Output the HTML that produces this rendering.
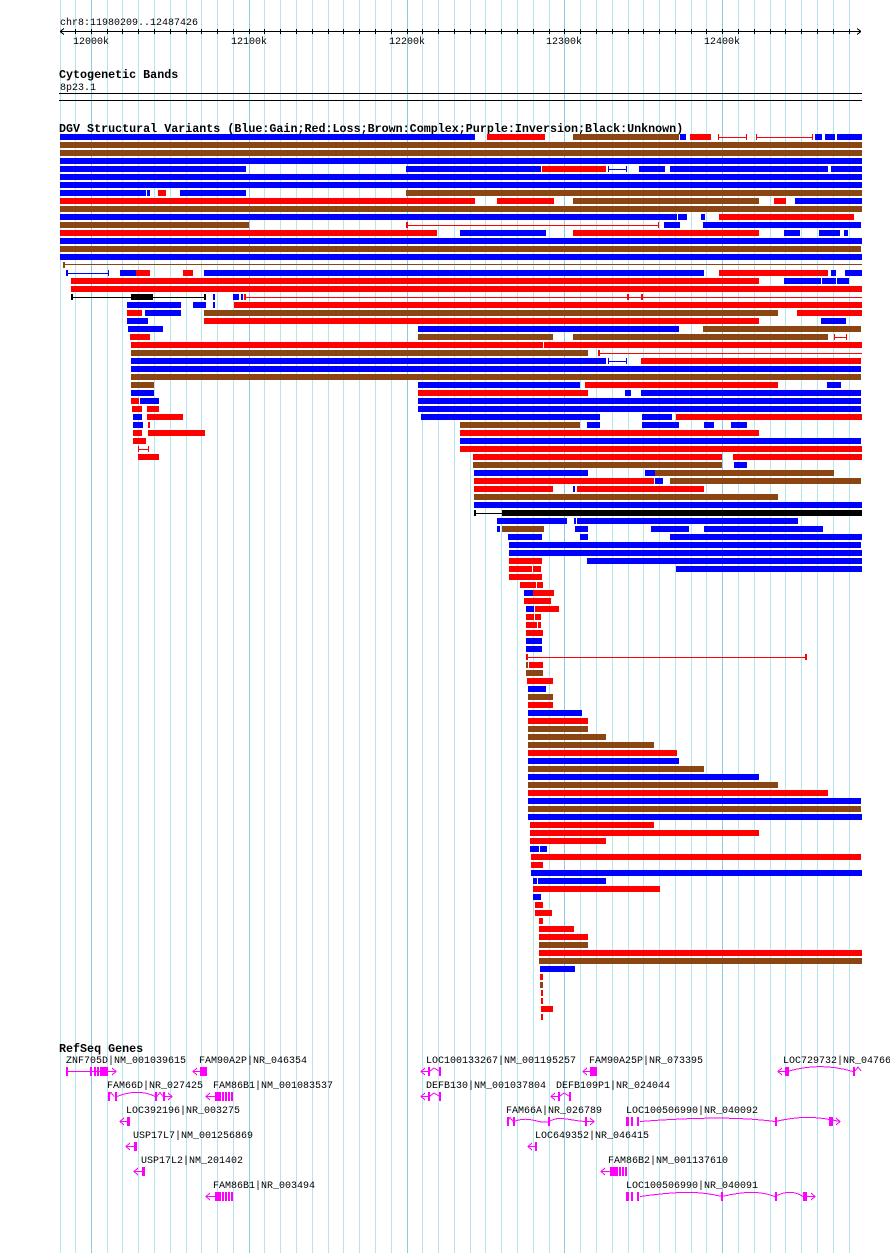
<!DOCTYPE html>
<html><head><meta charset="utf-8"><style>
html,body{margin:0;padding:0;background:#fff;}
svg{display:block}
.b{fill:#0000ff}.r{fill:#ff0000}.n{fill:#8b4513}.k{fill:#000}
.g{stroke:#b4e6f0;stroke-width:1}.gm{stroke:#8ccbe6;stroke-width:1}
.lr{stroke:#ff0000;stroke-width:1;fill:none}.lb{stroke:#0000ff;stroke-width:1;fill:none}.ln{stroke:#8b4513;stroke-width:1;fill:none}.lk{stroke:#000;stroke-width:1;fill:none}
.m{fill:#ff00ff}.lm{stroke:#ff00ff;stroke-width:1;fill:none}
text{font-family:"Liberation Mono",monospace;font-size:10px;fill:#000}
.t{font-weight:bold;font-size:11.7px}
</style></head><body>
<svg width="890" height="1253" viewBox="0 0 890 1253" xmlns="http://www.w3.org/2000/svg" shape-rendering="crispEdges">
<rect width="890" height="1253" fill="#fff"/>
<g>
<line class="g" x1="60.5" y1="0" x2="60.5" y2="1253"/><line class="g" x1="75.5" y1="0" x2="75.5" y2="1253"/><line class="gm" x1="91.5" y1="0" x2="91.5" y2="1253"/><line class="g" x1="107.5" y1="0" x2="107.5" y2="1253"/><line class="g" x1="122.5" y1="0" x2="122.5" y2="1253"/><line class="g" x1="138.5" y1="0" x2="138.5" y2="1253"/><line class="g" x1="154.5" y1="0" x2="154.5" y2="1253"/><line class="g" x1="170.5" y1="0" x2="170.5" y2="1253"/><line class="g" x1="186.5" y1="0" x2="186.5" y2="1253"/><line class="g" x1="201.5" y1="0" x2="201.5" y2="1253"/><line class="g" x1="217.5" y1="0" x2="217.5" y2="1253"/><line class="g" x1="233.5" y1="0" x2="233.5" y2="1253"/><line class="gm" x1="249.5" y1="0" x2="249.5" y2="1253"/><line class="g" x1="264.5" y1="0" x2="264.5" y2="1253"/><line class="g" x1="280.5" y1="0" x2="280.5" y2="1253"/><line class="g" x1="296.5" y1="0" x2="296.5" y2="1253"/><line class="g" x1="312.5" y1="0" x2="312.5" y2="1253"/><line class="g" x1="328.5" y1="0" x2="328.5" y2="1253"/><line class="g" x1="343.5" y1="0" x2="343.5" y2="1253"/><line class="g" x1="359.5" y1="0" x2="359.5" y2="1253"/><line class="g" x1="375.5" y1="0" x2="375.5" y2="1253"/><line class="g" x1="391.5" y1="0" x2="391.5" y2="1253"/><line class="gm" x1="407.5" y1="0" x2="407.5" y2="1253"/><line class="g" x1="422.5" y1="0" x2="422.5" y2="1253"/><line class="g" x1="438.5" y1="0" x2="438.5" y2="1253"/><line class="g" x1="454.5" y1="0" x2="454.5" y2="1253"/><line class="g" x1="470.5" y1="0" x2="470.5" y2="1253"/><line class="g" x1="485.5" y1="0" x2="485.5" y2="1253"/><line class="g" x1="501.5" y1="0" x2="501.5" y2="1253"/><line class="g" x1="517.5" y1="0" x2="517.5" y2="1253"/><line class="g" x1="533.5" y1="0" x2="533.5" y2="1253"/><line class="g" x1="549.5" y1="0" x2="549.5" y2="1253"/><line class="gm" x1="564.5" y1="0" x2="564.5" y2="1253"/><line class="g" x1="580.5" y1="0" x2="580.5" y2="1253"/><line class="g" x1="596.5" y1="0" x2="596.5" y2="1253"/><line class="g" x1="612.5" y1="0" x2="612.5" y2="1253"/><line class="g" x1="628.5" y1="0" x2="628.5" y2="1253"/><line class="g" x1="643.5" y1="0" x2="643.5" y2="1253"/><line class="g" x1="659.5" y1="0" x2="659.5" y2="1253"/><line class="g" x1="675.5" y1="0" x2="675.5" y2="1253"/><line class="g" x1="691.5" y1="0" x2="691.5" y2="1253"/><line class="g" x1="706.5" y1="0" x2="706.5" y2="1253"/><line class="gm" x1="722.5" y1="0" x2="722.5" y2="1253"/><line class="g" x1="738.5" y1="0" x2="738.5" y2="1253"/><line class="g" x1="754.5" y1="0" x2="754.5" y2="1253"/><line class="g" x1="770.5" y1="0" x2="770.5" y2="1253"/><line class="g" x1="785.5" y1="0" x2="785.5" y2="1253"/><line class="g" x1="801.5" y1="0" x2="801.5" y2="1253"/><line class="g" x1="817.5" y1="0" x2="817.5" y2="1253"/><line class="g" x1="833.5" y1="0" x2="833.5" y2="1253"/><line class="g" x1="849.5" y1="0" x2="849.5" y2="1253"/>
</g>
<!-- ruler -->
<text x="60" y="25">chr8:11980209..12487426</text>
<path class="lk" d="M60 31.5H861M60 31.5l4 -3M60 31.5l4 3M861 31.5l-4 -3M861 31.5l-4 3"/>
<path class="lk" d="M75.5 29v5M91.5 29v5M107.5 29v5M122.5 29v5M138.5 29v5M154.5 29v5M170.5 29v5M186.5 29v5M201.5 29v5M217.5 29v5M233.5 29v5M249.5 29v5M264.5 29v5M280.5 29v5M296.5 29v5M312.5 29v5M328.5 29v5M343.5 29v5M359.5 29v5M375.5 29v5M391.5 29v5M407.5 29v5M422.5 29v5M438.5 29v5M454.5 29v5M470.5 29v5M485.5 29v5M501.5 29v5M517.5 29v5M533.5 29v5M549.5 29v5M564.5 29v5M580.5 29v5M596.5 29v5M612.5 29v5M628.5 29v5M643.5 29v5M659.5 29v5M675.5 29v5M691.5 29v5M706.5 29v5M722.5 29v5M738.5 29v5M754.5 29v5M770.5 29v5M785.5 29v5M801.5 29v5M817.5 29v5M833.5 29v5M849.5 29v5"/>
<text x="73" y="44">12000k</text><text x="231" y="44">12100k</text><text x="389" y="44">12200k</text><text x="546" y="44">12300k</text><text x="704" y="44">12400k</text>
<text class="t" x="59" y="78">Cytogenetic Bands</text>
<text x="60" y="90">8p23.1</text>
<rect class="k" x="59" y="93" width="803" height="1"/>
<rect class="k" x="59" y="100" width="803" height="1"/>
<text class="t" x="59" y="132">DGV Structural Variants (Blue:Gain;Red:Loss;Brown:Complex;Purple:Inversion;Black:Unknown)</text>
<g>
<!-- i0 -->
<rect class="b" x="60" y="134" width="415" height="6"/><rect class="r" x="487" y="134" width="58" height="6"/><rect class="n" x="573" y="134" width="106" height="6"/><rect class="b" x="680" y="134" width="6" height="6"/><rect class="r" x="690" y="134" width="21" height="6"/>
<path class="lr" d="M718 137.5H747M756 137.5H813"/><rect class="r" x="718" y="134" width="1" height="6"/><rect class="r" x="746" y="134" width="1" height="6"/><rect class="r" x="756" y="134" width="1" height="6"/><rect class="r" x="812" y="134" width="1" height="6"/>
<rect class="b" x="815" y="134" width="7" height="6"/><rect class="b" x="825" y="134" width="10" height="6"/><rect class="b" x="837" y="134" width="25" height="6"/>
<rect class="n" x="60" y="142" width="802" height="6"/>
<rect class="n" x="60" y="150" width="802" height="6"/>
<rect class="b" x="60" y="158" width="802" height="6"/>
<rect class="b" x="60" y="166" width="186" height="6"/><rect class="b" x="406" y="166" width="135" height="6"/><rect class="r" x="542" y="166" width="64" height="6"/><path class="lb" d="M608 169.5H627"/><rect class="b" x="608" y="166" width="1" height="6"/><rect class="b" x="626" y="166" width="1" height="6"/><rect class="b" x="639" y="166" width="26" height="6"/><rect class="b" x="670" y="166" width="158" height="6"/><rect class="b" x="831" y="166" width="31" height="6"/>
<rect class="b" x="60" y="174" width="802" height="6"/>
<rect class="b" x="60" y="182" width="802" height="6"/>
<rect class="b" x="60" y="190" width="86" height="6"/><rect class="b" x="147" y="190" width="3" height="6"/><rect class="r" x="158" y="190" width="8" height="6"/><rect class="b" x="180" y="190" width="66" height="6"/><rect class="n" x="406" y="190" width="456" height="6"/>
<rect class="r" x="60" y="198" width="415" height="6"/><rect class="r" x="497" y="198" width="57" height="6"/><rect class="n" x="573" y="198" width="186" height="6"/><rect class="r" x="774" y="198" width="12" height="6"/><rect class="b" x="795" y="198" width="67" height="6"/>
<rect class="n" x="60" y="206" width="802" height="6"/>
<rect class="b" x="60" y="214" width="617" height="6"/><rect class="b" x="678" y="214" width="9" height="6"/><rect class="b" x="701" y="214" width="4" height="6"/><rect class="r" x="719" y="214" width="135" height="6"/>
<rect class="n" x="60" y="222" width="189" height="6"/><path class="lr" d="M406 225.5H659"/><rect class="r" x="406" y="222" width="2" height="6"/><rect class="r" x="658" y="222" width="1" height="6"/><rect class="b" x="664" y="222" width="16" height="6"/><rect class="b" x="703" y="222" width="158" height="6"/>
<rect class="r" x="60" y="230" width="377" height="6"/><rect class="b" x="460" y="230" width="86" height="6"/><rect class="r" x="573" y="230" width="186" height="6"/><rect class="b" x="784" y="230" width="16" height="6"/><rect class="b" x="819" y="230" width="21" height="6"/><rect class="b" x="844" y="230" width="4" height="6"/>
<rect class="b" x="60" y="238" width="802" height="6"/>
<rect class="n" x="60" y="246" width="801" height="6"/>
<rect class="b" x="60" y="254" width="802" height="6"/>
<path class="ln" d="M63 264.5H862"/><rect class="n" x="63" y="262" width="2" height="6"/>
<path class="lb" d="M66 273.5H109"/><rect class="b" x="66" y="270" width="2" height="6"/><rect class="b" x="108" y="270" width="1" height="6"/><rect class="b" x="120" y="270" width="16" height="6"/><rect class="r" x="136" y="270" width="14" height="6"/><rect class="r" x="183" y="270" width="10" height="6"/><rect class="b" x="204" y="270" width="500" height="6"/><rect class="r" x="719" y="270" width="109" height="6"/><rect class="b" x="831" y="270" width="5" height="6"/><rect class="b" x="845" y="270" width="17" height="6"/>
<rect class="r" x="71" y="278" width="688" height="6"/><rect class="b" x="784" y="278" width="37" height="6"/><rect class="b" x="822" y="278" width="14" height="6"/><rect class="b" x="837" y="278" width="12" height="6"/>
<rect class="r" x="71" y="286" width="791" height="6"/>
<path class="lk" d="M71 297.5H205"/><rect class="k" x="71" y="294" width="2" height="6"/><rect class="k" x="204" y="294" width="2" height="6"/><rect class="k" x="131" y="294" width="22" height="6"/><rect class="b" x="213" y="294" width="2" height="6"/><rect class="b" x="233" y="294" width="6" height="6"/><rect class="b" x="241" y="294" width="2" height="6"/><path class="lr" d="M244 297.5H862"/><rect class="r" x="244" y="294" width="2" height="6"/><rect class="r" x="627" y="294" width="2" height="6"/><rect class="r" x="641" y="294" width="2" height="6"/>
<rect class="b" x="127" y="302" width="54" height="6"/><rect class="b" x="193" y="302" width="13" height="6"/><rect class="b" x="213" y="302" width="2" height="6"/><rect class="r" x="234" y="302" width="628" height="6"/>
<rect class="r" x="127" y="310" width="15" height="6"/><rect class="b" x="145" y="310" width="36" height="6"/><rect class="n" x="204" y="310" width="574" height="6"/><rect class="r" x="797" y="310" width="65" height="6"/>
<rect class="b" x="127" y="318" width="21" height="6"/><rect class="r" x="204" y="318" width="555" height="6"/><rect class="b" x="821" y="318" width="25" height="6"/>
<rect class="b" x="128" y="326" width="35" height="6"/><rect class="b" x="418" y="326" width="261" height="6"/><rect class="n" x="703" y="326" width="158" height="6"/>
<rect class="r" x="130" y="334" width="20" height="6"/><rect class="n" x="418" y="334" width="135" height="6"/><rect class="n" x="573" y="334" width="255" height="6"/><path class="lr" d="M834 337.5H847"/><rect class="r" x="834" y="334" width="1" height="6"/><rect class="r" x="846" y="334" width="1" height="6"/>
<rect class="r" x="131" y="342" width="412" height="6"/><rect class="r" x="544" y="342" width="318" height="6"/>
<rect class="n" x="131" y="350" width="457" height="6"/><path class="lr" d="M598 353.5H862"/><rect class="r" x="598" y="350" width="2" height="6"/>
<rect class="b" x="131" y="358" width="475" height="6"/><path class="lb" d="M608 361.5H627"/><rect class="b" x="608" y="358" width="1" height="6"/><rect class="b" x="626" y="358" width="1" height="6"/><rect class="r" x="641" y="358" width="220" height="6"/>
<rect class="b" x="131" y="366" width="730" height="6"/>
<rect class="n" x="131" y="374" width="730" height="6"/>
<rect class="n" x="131" y="382" width="23" height="6"/><rect class="b" x="418" y="382" width="162" height="6"/><rect class="r" x="585" y="382" width="193" height="6"/><rect class="b" x="827" y="382" width="14" height="6"/>
<rect class="b" x="131" y="390" width="23" height="6"/><rect class="r" x="418" y="390" width="170" height="6"/><rect class="b" x="625" y="390" width="6" height="6"/><rect class="b" x="641" y="390" width="220" height="6"/>
<rect class="r" x="131" y="398" width="8" height="6"/><rect class="b" x="140" y="398" width="19" height="6"/><rect class="b" x="418" y="398" width="443" height="6"/>
<rect class="r" x="132" y="406" width="10" height="6"/><rect class="r" x="147" y="406" width="12" height="6"/><rect class="b" x="418" y="406" width="443" height="6"/>
<rect class="b" x="133" y="414" width="9" height="6"/><rect class="r" x="147" y="414" width="36" height="6"/><rect class="b" x="421" y="414" width="179" height="6"/><rect class="b" x="642" y="414" width="30" height="6"/><rect class="r" x="676" y="414" width="186" height="6"/>
<rect class="b" x="133" y="422" width="10" height="6"/><rect class="r" x="148" y="422" width="2" height="6"/><rect class="n" x="460" y="422" width="120" height="6"/><rect class="b" x="587" y="422" width="13" height="6"/><rect class="b" x="642" y="422" width="37" height="6"/><rect class="b" x="704" y="422" width="10" height="6"/><rect class="b" x="731" y="422" width="16" height="6"/>
<rect class="r" x="133" y="430" width="9" height="6"/><rect class="r" x="148" y="430" width="57" height="6"/><rect class="r" x="460" y="430" width="299" height="6"/>
<rect class="r" x="133" y="438" width="13" height="6"/><rect class="b" x="460" y="438" width="401" height="6"/>
<path class="lr" d="M138 449.5H149"/><rect class="r" x="138" y="446" width="1" height="6"/><rect class="r" x="148" y="446" width="1" height="6"/><rect class="r" x="460" y="446" width="402" height="6"/>
<rect class="r" x="138" y="454" width="21" height="6"/><rect class="r" x="473" y="454" width="249" height="6"/><rect class="r" x="733" y="454" width="129" height="6"/>
<rect class="n" x="473" y="462" width="249" height="6"/><rect class="b" x="734" y="462" width="13" height="6"/>
<rect class="b" x="474" y="470" width="114" height="6"/><rect class="b" x="645" y="470" width="10" height="6"/><rect class="n" x="655" y="470" width="179" height="6"/>
<rect class="r" x="474" y="478" width="180" height="6"/><rect class="b" x="655" y="478" width="8" height="6"/><rect class="n" x="670" y="478" width="191" height="6"/>
<rect class="r" x="474" y="486" width="79" height="6"/><rect class="b" x="573" y="486" width="2" height="6"/><rect class="r" x="577" y="486" width="127" height="6"/>
<rect class="n" x="474" y="494" width="304" height="6"/>
<rect class="b" x="474" y="502" width="388" height="6"/>
<path class="lk" d="M474 513.5H502"/><rect class="k" x="474" y="510" width="2" height="6"/><rect class="k" x="502" y="510" width="360" height="6"/>
<rect class="b" x="497" y="518" width="70" height="6"/><rect class="b" x="574" y="518" width="2" height="6"/><rect class="b" x="577" y="518" width="221" height="6"/>
<rect class="b" x="497" y="526" width="3" height="6"/><rect class="n" x="502" y="526" width="42" height="6"/><rect class="b" x="575" y="526" width="13" height="6"/><rect class="b" x="651" y="526" width="38" height="6"/><rect class="b" x="704" y="526" width="119" height="6"/>
<rect class="b" x="508" y="534" width="34" height="6"/><rect class="b" x="580" y="534" width="8" height="6"/><rect class="b" x="670" y="534" width="192" height="6"/>
<rect class="b" x="509" y="542" width="352" height="6"/>
<rect class="b" x="509" y="550" width="353" height="6"/>
<rect class="r" x="509" y="558" width="33" height="6"/><rect class="b" x="587" y="558" width="275" height="6"/>
<rect class="r" x="509" y="566" width="23" height="6"/><rect class="r" x="533" y="566" width="8" height="6"/><rect class="b" x="676" y="566" width="186" height="6"/>
<rect class="r" x="509" y="574" width="33" height="6"/>
<rect class="r" x="520" y="582" width="16" height="6"/><rect class="r" x="537" y="582" width="6" height="6"/>
<rect class="b" x="524" y="590" width="9" height="6"/><rect class="r" x="533" y="590" width="21" height="6"/>
<rect class="r" x="524" y="598" width="27" height="6"/>
<rect class="b" x="526" y="606" width="8" height="6"/><rect class="r" x="535" y="606" width="24" height="6"/>
<rect class="r" x="526" y="614" width="8" height="6"/><rect class="r" x="535" y="614" width="6" height="6"/>
<rect class="r" x="526" y="622" width="11" height="6"/><rect class="r" x="538" y="622" width="3" height="6"/>
<rect class="r" x="526" y="630" width="17" height="6"/>
<rect class="b" x="526" y="638" width="16" height="6"/>
<rect class="b" x="526" y="646" width="16" height="6"/>
<path class="lr" d="M526 657.5H806"/><rect class="r" x="526" y="654" width="2" height="6"/><rect class="r" x="805" y="654" width="2" height="6"/>
<rect class="n" x="526" y="662" width="2" height="6"/><rect class="r" x="529" y="662" width="14" height="6"/>
<rect class="n" x="526" y="670" width="17" height="6"/>
<rect class="r" x="527" y="678" width="26" height="6"/>
<rect class="b" x="528" y="686" width="18" height="6"/>
<rect class="n" x="528" y="694" width="25" height="6"/>
<rect class="r" x="528" y="702" width="25" height="6"/>
<rect class="b" x="528" y="710" width="54" height="6"/>
<rect class="r" x="528" y="718" width="60" height="6"/>
<rect class="n" x="528" y="726" width="60" height="6"/>
<rect class="n" x="528" y="734" width="78" height="6"/>
<rect class="n" x="528" y="742" width="126" height="6"/>
<rect class="r" x="528" y="750" width="149" height="6"/>
<rect class="b" x="528" y="758" width="151" height="6"/>
<rect class="n" x="528" y="766" width="176" height="6"/>
<rect class="b" x="528" y="774" width="231" height="6"/>
<rect class="n" x="528" y="782" width="250" height="6"/>
<rect class="r" x="528" y="790" width="300" height="6"/>
<rect class="b" x="528" y="798" width="333" height="6"/>
<rect class="n" x="528" y="806" width="333" height="6"/>
<rect class="b" x="528" y="814" width="334" height="6"/>
<rect class="r" x="530" y="822" width="124" height="6"/>
<rect class="r" x="530" y="830" width="229" height="6"/>
<rect class="r" x="530" y="838" width="76" height="6"/>
<rect class="b" x="530" y="846" width="9" height="6"/><rect class="b" x="540" y="846" width="7" height="6"/>
<rect class="r" x="531" y="854" width="330" height="6"/>
<rect class="r" x="531" y="862" width="12" height="6"/>
<rect class="b" x="531" y="870" width="331" height="6"/>
<rect class="b" x="533" y="878" width="4" height="6"/><rect class="b" x="538" y="878" width="68" height="6"/>
<rect class="r" x="533" y="886" width="127" height="6"/>
<rect class="b" x="533" y="894" width="8" height="6"/>
<rect class="r" x="535" y="902" width="8" height="6"/>
<rect class="r" x="535" y="910" width="17" height="6"/>
<rect class="r" x="539" y="918" width="4" height="6"/>
<rect class="r" x="539" y="926" width="35" height="6"/>
<rect class="r" x="539" y="934" width="49" height="6"/>
<rect class="n" x="539" y="942" width="49" height="6"/>
<rect class="r" x="539" y="950" width="323" height="6"/>
<rect class="n" x="539" y="958" width="323" height="6"/>
<rect class="b" x="540" y="966" width="35" height="6"/>
<rect class="r" x="540" y="974" width="3" height="6"/>
<rect class="n" x="540" y="982" width="3" height="6"/>
<rect class="r" x="541" y="990" width="2" height="6"/>
<rect class="r" x="541" y="998" width="2" height="6"/>
<rect class="r" x="541" y="1006" width="12" height="6"/>
<rect class="r" x="541" y="1014" width="2" height="6"/>
</g>
<!-- RefSeq genes -->
<text class="t" x="59" y="1052">RefSeq Genes</text>
<text x="66" y="1063">ZNF705D|NM_001039615</text>
<text x="199" y="1063">FAM90A2P|NR_046354</text>
<text x="426" y="1063">LOC100133267|NM_001195257</text>
<text x="589" y="1063">FAM90A25P|NR_073395</text>
<text x="783" y="1063">LOC729732|NR_04766</text>
<text x="107" y="1088">FAM66D|NR_027425</text>
<text x="213" y="1088">FAM86B1|NM_001083537</text>
<text x="426" y="1088">DEFB130|NM_001037804</text>
<text x="556" y="1088">DEFB109P1|NR_024044</text>
<text x="126" y="1113">LOC392196|NR_003275</text>
<text x="506" y="1113">FAM66A|NR_026789</text>
<text x="626" y="1113">LOC100506990|NR_040092</text>
<text x="133" y="1138">USP17L7|NM_001256869</text>
<text x="535" y="1138">LOC649352|NR_046415</text>
<text x="141" y="1163">USP17L2|NM_201402</text>
<text x="608" y="1163">FAM86B2|NM_001137610</text>
<text x="213" y="1188">FAM86B1|NR_003494</text>
<text x="626" y="1188">LOC100506990|NR_040091</text>
<g>
<!-- row A y=1071 -->
<path class="lm" d="M66 1071.5H116M112 1068l4 3.5l-4 3.5M200 1071.5H193M197 1068l-4 3.5l4 3.5M421 1071.5H430M425 1068l-4 3.5l4 3.5M430 1071l4 -3l5 3M583 1071.5H590M587 1068l-4 3.5l4 3.5M778 1071.5H787M782 1068l-4 3.5l4 3.5M787 1071.5C810 1065 830 1065 853 1071.5M855 1071l3 -4l3 4"/>
<rect class="m" x="66" y="1067" width="2" height="9"/><rect class="m" x="90" y="1067" width="2" height="9"/><rect class="m" x="94" y="1067" width="2" height="9"/><rect class="m" x="97" y="1067" width="2" height="9"/><rect class="m" x="100" y="1067" width="8" height="9"/>
<rect class="m" x="200" y="1067" width="7" height="9"/>
<rect class="m" x="428" y="1067" width="2" height="9"/><rect class="m" x="439" y="1067" width="2" height="9"/>
<rect class="m" x="590" y="1067" width="7" height="9"/>
<rect class="m" x="785" y="1067" width="4" height="9"/><rect class="m" x="853" y="1067" width="2" height="9"/>
<!-- row B y=1096 -->
<path class="lm" d="M108 1096.5l3 -4l3 4M117 1096.5C130 1091 145 1091 155 1096.5M157 1096.5l3 -4l3 4M165 1096.5H172M168 1093l4 3.5l-4 3.5M206 1096.5H215M210 1093l-4 3.5l4 3.5M421 1096.5H430M425 1093l-4 3.5l4 3.5M430 1096l4 -3l5 3M551 1096.5H560M555 1093l-4 3.5l4 3.5M560 1096l4 -3l5 3"/>
<rect class="m" x="108" y="1092" width="2" height="9"/><rect class="m" x="115" y="1092" width="2" height="9"/><rect class="m" x="155" y="1092" width="2" height="9"/><rect class="m" x="163" y="1092" width="2" height="9"/>
<rect class="m" x="215" y="1092" width="6" height="9"/><rect class="m" x="222" y="1092" width="2" height="9"/><rect class="m" x="225" y="1092" width="2" height="9"/><rect class="m" x="228" y="1092" width="2" height="9"/><rect class="m" x="231" y="1092" width="2" height="9"/>
<rect class="m" x="428" y="1092" width="2" height="9"/><rect class="m" x="439" y="1092" width="2" height="9"/>
<rect class="m" x="558" y="1092" width="2" height="9"/><rect class="m" x="569" y="1092" width="2" height="9"/>
<!-- row C y=1121 -->
<path class="lm" d="M121 1121.5H128M124 1118l-4 3.5l4 3.5M507 1121.5l3 -4l3 4M514 1121.5C530 1115 540 1125 549 1121.5C560 1115 570 1121 586 1121.5H594M590 1118l4 3.5l-4 3.5M640 1121.5C700 1117 740 1117 775 1121.5C800 1116 815 1116 840 1121.5M836 1118l4 3.5l-4 3.5"/>
<rect class="m" x="127" y="1117" width="3" height="9"/>
<rect class="m" x="507" y="1117" width="2" height="9"/><rect class="m" x="513" y="1117" width="2" height="9"/><rect class="m" x="548" y="1117" width="2" height="9"/><rect class="m" x="585" y="1117" width="2" height="9"/>
<rect class="m" x="626" y="1117" width="3" height="9"/><rect class="m" x="631" y="1117" width="2" height="9"/><rect class="m" x="637" y="1117" width="2" height="9"/><rect class="m" x="775" y="1117" width="2" height="9"/><rect class="m" x="829" y="1117" width="4" height="9"/>
<!-- row D y=1146 -->
<path class="lm" d="M127 1146.5H134M130 1143l-4 3.5l4 3.5M529 1146.5H536M532 1143l-4 3.5l4 3.5"/>
<rect class="m" x="134" y="1142" width="3" height="9"/><rect class="m" x="535" y="1142" width="2" height="9"/>
<!-- row E y=1171 -->
<path class="lm" d="M135 1171.5H142M138 1168l-4 3.5l4 3.5M601 1171.5H610M605 1168l-4 3.5l4 3.5"/>
<rect class="m" x="142" y="1167" width="3" height="9"/>
<rect class="m" x="610" y="1167" width="8" height="9"/><rect class="m" x="619" y="1167" width="2" height="9"/><rect class="m" x="622" y="1167" width="2" height="9"/><rect class="m" x="625" y="1167" width="2" height="9"/>
<!-- row F y=1196 -->
<path class="lm" d="M206 1196.5H215M210 1193l-4 3.5l4 3.5M640 1196.5C680 1191 700 1191 722 1196.5C745 1191 760 1191 775 1196.5C785 1191 795 1191 803 1196.5H815M811 1193l4 3.5l-4 3.5"/>
<rect class="m" x="215" y="1192" width="6" height="9"/><rect class="m" x="222" y="1192" width="2" height="9"/><rect class="m" x="225" y="1192" width="2" height="9"/><rect class="m" x="228" y="1192" width="2" height="9"/><rect class="m" x="231" y="1192" width="2" height="9"/>
<rect class="m" x="626" y="1192" width="3" height="9"/><rect class="m" x="631" y="1192" width="2" height="9"/><rect class="m" x="637" y="1192" width="2" height="9"/><rect class="m" x="721" y="1192" width="2" height="9"/><rect class="m" x="775" y="1192" width="2" height="9"/><rect class="m" x="803" y="1192" width="4" height="9"/>
</g>
</svg>
</body></html>
